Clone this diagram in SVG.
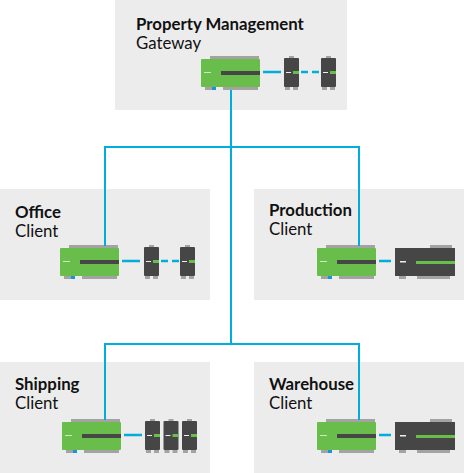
<svg xmlns="http://www.w3.org/2000/svg" width="464" height="473" viewBox="0 0 464 473">
<style>
.panel{fill:#ececec}
.t{font-family:Lato,"Noto Sans",sans-serif;font-size:16.800px;fill:#111}
.b{font-weight:700}
.conn{fill:none;stroke:#00aedb;stroke-width:2}
.link{fill:none;stroke:#00aedb;stroke-width:2.500}
.dash{stroke-dasharray:7 4}
</style>
<defs>
<g id="ctrl">
<rect x="9" y="-3" width="49" height="3" fill="#a3a3a3"/>
<rect x="4" y="28" width="11" height="3" fill="#a3a3a3"/>
<rect x="22" y="28" width="35" height="3" fill="#a3a3a3"/>
<rect x="11" y="28" width="4" height="3" fill="#1e90e0"/>
<rect x="0" y="0" width="59" height="28" rx="1" fill="#69be4b"/>
<rect x="3" y="13" width="7" height="1" fill="#cfe8c4"/>
<rect x="20" y="12" width="39" height="4" fill="#464646"/>
</g>
<g id="mod">
<rect x="5" y="-2" width="5" height="2" fill="#a3a3a3"/>
<rect x="1" y="29" width="5" height="3" fill="#a3a3a3"/>
<rect x="9" y="29" width="5" height="3" fill="#a3a3a3"/>
<rect x="0" y="0" width="15" height="29" rx="1" fill="#464646"/>
<rect x="2" y="14" width="5" height="1" fill="#eeeeee"/>
<rect x="9" y="13" width="6" height="3" fill="#69be4b"/>
</g>
<g id="big">
<rect x="35" y="-3" width="22" height="3" fill="#a3a3a3"/>
<rect x="4" y="28" width="7" height="3" fill="#a3a3a3"/>
<rect x="22" y="28" width="33" height="3" fill="#a3a3a3"/>
<rect x="0" y="0" width="60" height="28" fill="#464646"/>
<rect x="5" y="13" width="6" height="1.500" fill="#eeeeee"/>
<rect x="21" y="13" width="39" height="3" fill="#69be4b"/>
</g>
</defs>
<g id="gateway">
<rect class="panel" x="115" y="0" width="232" height="110"/>
<text class="t b" x="136" y="30">Property Management</text>
<text class="t" x="136" y="49">Gateway</text>
<use href="#ctrl" x="201" y="59"/>
<use href="#mod" x="284" y="58"/>
<use href="#mod" x="321" y="58"/>
<path class="link" d="M263 72H281"/>
<path class="link dash" d="M301 72H320"/>
</g>
<g id="office">
<rect class="panel" x="0" y="189" width="210" height="111"/>
<text class="t b" x="15" y="218">Office</text>
<text class="t" x="15" y="237">Client</text>
<use href="#ctrl" x="60" y="248"/>
<use href="#mod" x="144" y="247"/>
<use href="#mod" x="180" y="247"/>
<path class="link" d="M122 261H140"/>
<path class="link dash" d="M161 261H179"/>
</g>
<g id="production">
<rect class="panel" x="254" y="189" width="210" height="111"/>
<text class="t b" x="269" y="216">Production</text>
<text class="t" x="269" y="235">Client</text>
<use href="#ctrl" x="317" y="248"/>
<use href="#big" x="395" y="248"/>
<path class="link" d="M379 261H391"/>
</g>
<g id="shipping">
<rect class="panel" x="0" y="362" width="210" height="111"/>
<text class="t b" x="15" y="390">Shipping</text>
<text class="t" x="15" y="409">Client</text>
<use href="#ctrl" x="62" y="422"/>
<use href="#mod" x="145" y="421"/>
<use href="#mod" x="163.500" y="421"/>
<use href="#mod" x="182" y="421"/>
<path class="link" d="M124 435H142"/>
</g>
<g id="warehouse">
<rect class="panel" x="254" y="362" width="210" height="111"/>
<text class="t b" x="269" y="390">Warehouse</text>
<text class="t" x="269" y="409">Client</text>
<use href="#ctrl" x="317" y="422"/>
<use href="#big" x="395" y="422"/>
<path class="link" d="M379 435H391"/>
</g>
<g id="connectors">
<path class="conn" d="M231 90V343"/>
<path class="conn" d="M105 246V147H359V246"/>
<path class="conn" d="M105 420V344H359V420"/>
</g>
</svg>
